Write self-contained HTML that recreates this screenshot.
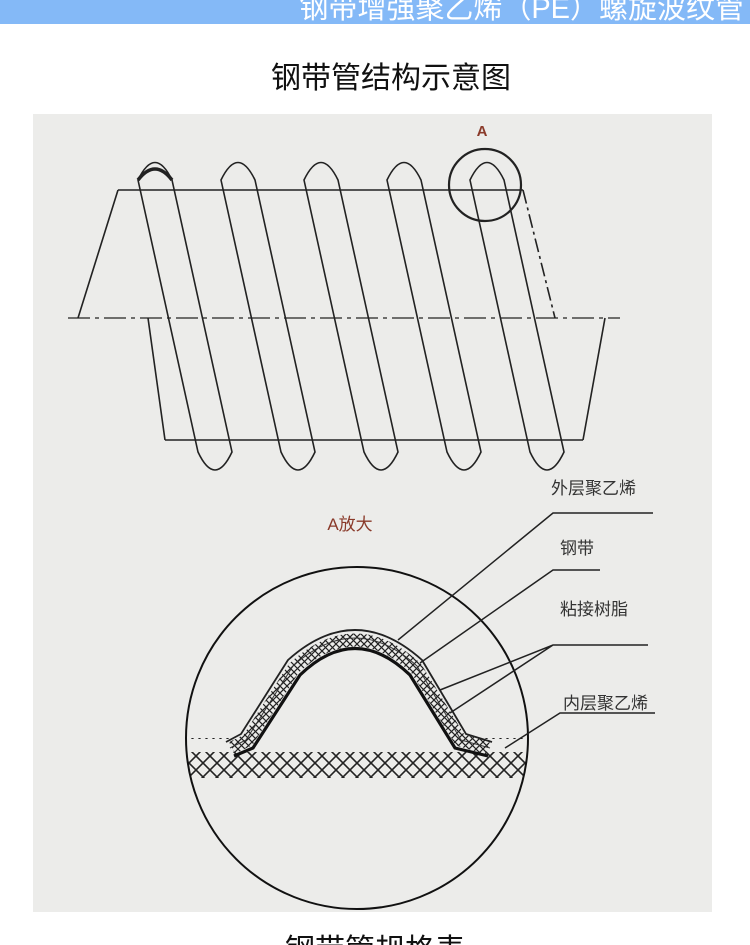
<!DOCTYPE html>
<html><head><meta charset="utf-8"><style>
html,body{margin:0;padding:0;background:#fff;width:750px;height:945px;overflow:hidden}
body{position:relative;font-family:"Liberation Sans","Noto Sans CJK SC",sans-serif}
</style></head><body>
<svg width="750" height="945" viewBox="0 0 750 945" xmlns="http://www.w3.org/2000/svg" style="position:absolute;left:0;top:0">
<defs>
<pattern id="xh" width="14" height="14" patternUnits="userSpaceOnUse">
<path d="M0 0L14 14M14 0L0 14" stroke="#222" stroke-width="1.6"/>
</pattern>
<pattern id="xs" width="7" height="7" patternUnits="userSpaceOnUse">
<path d="M0 0L7 7M7 0L0 7" stroke="#222" stroke-width="1.2"/>
</pattern>
<clipPath id="cc"><circle cx="357" cy="738" r="171"/></clipPath>
</defs>
<rect x="0" y="0" width="750" height="24" fill="#84b9f7"/>
<text x="744" y="18" text-anchor="end" font-size="29" fill="#fff" font-family="Liberation Sans,Noto Sans CJK SC,sans-serif">钢带增强聚乙烯（PE）螺旋波纹管</text>
<text x="391" y="88" text-anchor="middle" font-size="30" fill="#111" font-family="Liberation Sans,Noto Sans CJK SC,sans-serif">钢带管结构示意图</text>
<rect x="33" y="114" width="679" height="798" fill="#ececea"/>
<g stroke="#222" stroke-width="1.6" fill="none">
<line x1="118" y1="190" x2="523" y2="190"/>
<line x1="165" y1="440" x2="583" y2="440"/>
<line x1="118" y1="190" x2="78" y2="318"/>
<line x1="148" y1="318" x2="165" y2="440"/>
<line x1="523" y1="190" x2="555" y2="318" stroke-dasharray="14 4 3 4"/>
<line x1="605" y1="318" x2="583" y2="440"/>
<line x1="68" y1="318" x2="620" y2="318" stroke-dasharray="22 5 4 5" stroke-width="1.3"/>
<path d="M138 180 Q155 145 172 180 L232 452 Q215 488 198 452 Z"/>
<path d="M221 180 Q238 145 255 180 L315 452 Q298 488 281 452 Z"/>
<path d="M304 180 Q321 145 338 180 L398 452 Q381 488 364 452 Z"/>
<path d="M387 180 Q404 145 421 180 L481 452 Q464 488 447 452 Z"/>
<path d="M470 180 Q487 145 504 180 L564 452 Q547 488 530 452 Z"/>
<path d="M138 180 Q155 158 172 180" stroke-width="3.5"/>
<circle cx="485" cy="185" r="36" stroke-width="2.2"/>
</g>
<text x="482" y="136" text-anchor="middle" font-size="15" fill="#8a3a2a" font-weight="bold">A</text>
<text x="350" y="530" text-anchor="middle" font-size="17" fill="#8a3a2a" font-family="Liberation Sans,Noto Sans CJK SC,sans-serif">A放大</text>
<g clip-path="url(#cc)">
<rect x="180" y="738" width="360" height="40" fill="url(#xh)"/>
<path d="M180 739 L232 739 L286 666 Q355 604 424 666 L476 739 L540 739 L540 752 L180 752 Z" fill="#ececea"/>
<path d="M232 748 L248 740 L294 668 Q355 612 416 668 L460 740 L488 748" stroke="url(#xs)" stroke-width="13" fill="none"/>
<path d="M226 742 L241 734 L288 660 Q355 600 422 660 L466 734 L492 742" stroke="#222" stroke-width="1.8" fill="none"/>
<path d="M230 748 L246 740 L293 666 Q355 610 417 666 L461 740 L490 748" stroke="#333" stroke-width="1" fill="none"/>
<path d="M234 756 L253 748 L300 675 Q355 622 410 675 L455 748 L488 756" stroke="#111" stroke-width="3.2" fill="none"/>
</g>
<circle cx="357" cy="738" r="171" stroke="#111" stroke-width="2" fill="none"/>
<g stroke="#222" stroke-width="1.5" fill="none">
<path d="M653 513 L553 513 L398 640"/>
<path d="M600 570 L553 570 L420 663"/>
<path d="M648 645 L553 645 L440 690 M553 645 L450 713"/>
<path d="M655 713 L560 713 L505 748"/>
</g>
<g font-size="17" fill="#333" font-family="Liberation Sans,Noto Sans CJK SC,sans-serif">
<text x="551" y="494">外层聚乙烯</text>
<text x="560" y="554">钢带</text>
<text x="560" y="615">粘接树脂</text>
<text x="563" y="709">内层聚乙烯</text>
</g>
<text x="375" y="960" text-anchor="middle" font-size="30" fill="#111" font-family="Liberation Sans,Noto Sans CJK SC,sans-serif">钢带管规格表</text>
</svg>
</body></html>
